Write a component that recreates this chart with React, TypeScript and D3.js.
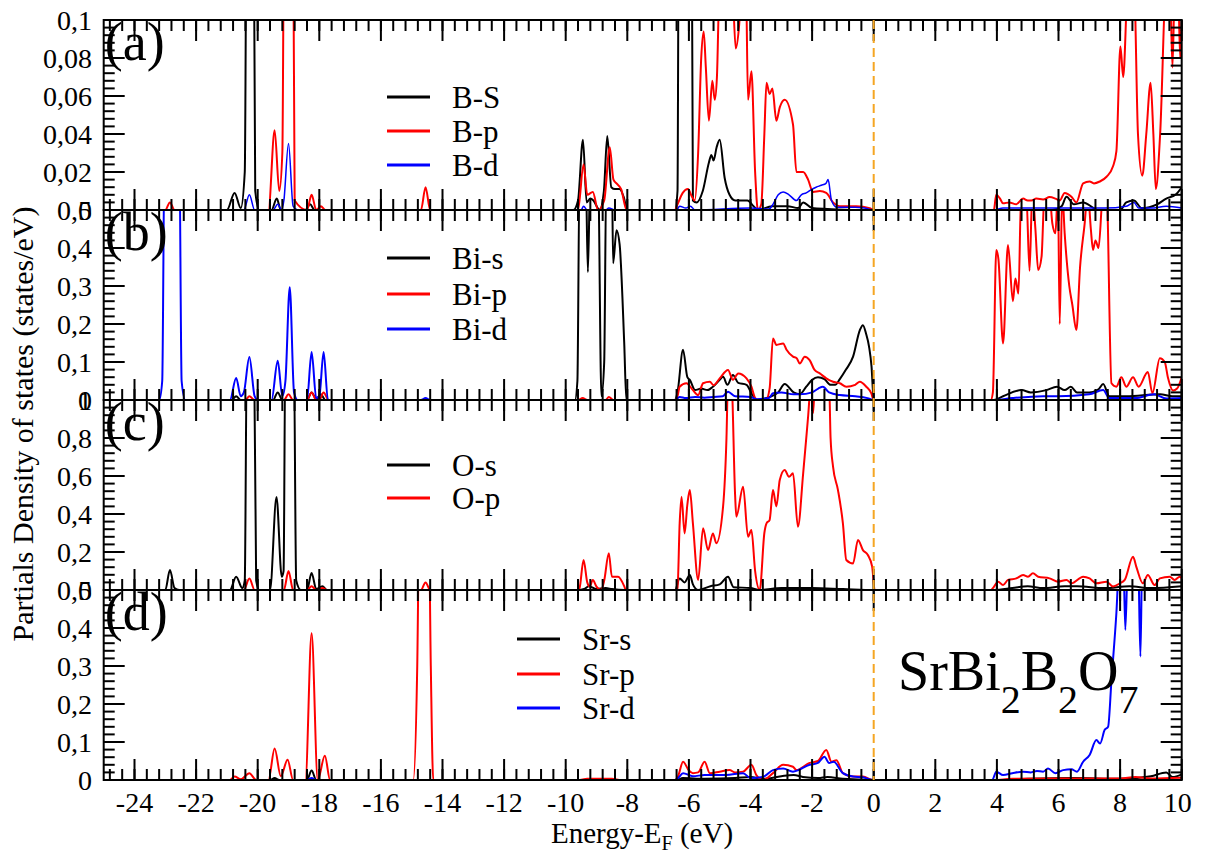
import React from 'react';
import * as d3 from 'd3';

type Pt = [number, number];

// ---- energy axis ----
const energyTicks: number[] = [-24, -22, -20, -18, -16, -14, -12, -10, -8, -6, -4, -2, 0, 2, 4, 6, 8, 10];

// ---- y ticks per panel ----
const ticksA: number[] = [0, 0.02, 0.04, 0.06, 0.08, 0.1];
const ticksB: number[] = [0, 0.1, 0.2, 0.3, 0.4, 0.5];
const ticksC: number[] = [0, 0.2, 0.4, 0.6, 0.8, 1];
const ticksD: number[] = [0, 0.1, 0.2, 0.3, 0.4, 0.5];

// ---- (a) boron ----
const bS: Pt[] = [
  [-25, 0], [-21.0, 0], [-20.75, 0.009], [-20.55, 0.001], [-20.42, 0.02], [-20.32, 0.3], [-20.18, 0.3], [-20.08, 0.01], [-19.95, 0],
  [-19.55, 0], [-19.38, 0.006], [-19.25, 0], [-18.45, 0], [-18.3, 0.003], [-18.15, 0],
  [-9.75, 0], [-9.6, 0.005], [-9.44, 0.037], [-9.32, 0.004], [-9.2, 0.006], [-9.1, 0.005], [-8.9, 0], [-8.76, 0.01], [-8.65, 0.039],
  [-8.52, 0.012], [-8.4, 0.011], [-8.25, 0.011], [-8.12, 0.007], [-8.0, 0],
  [-6.45, 0], [-6.37, 0.01], [-6.32, 0.2], [-5.92, 0.2], [-5.87, 0.005], [-5.75, 0.004], [-5.55, 0.01], [-5.35, 0.025], [-5.27, 0.029],
  [-5.2, 0.026], [-5.1, 0.033], [-5.0, 0.037], [-4.84, 0.017], [-4.68, 0.008], [-4.5, 0.005], [-4.3, 0.005], [-4.1, 0.005], [-3.9, 0.002],
  [-3.76, 0], [-3.3, 0.002], [-2.8, 0.002], [-2.45, 0.001], [-2.29, 0.004], [-2.0, 0.001], [-1.5, 0.0005], [-0.5, 0], [0, 0],
  [5.8, 0], [6.1, 0.002], [6.26, 0.007], [6.5, 0.003], [6.8, 0.004], [7.3, 0], [8.0, 0], [8.2, 0.004], [8.45, 0.005], [8.7, 0.001],
  [9.2, 0.003], [9.5, 0.006], [9.8, 0.008], [10, 0.012],
];
const bP: Pt[] = [
  [-25, 0], [-23.0, 0], [-22.85, 0.004], [-22.7, 0], [-19.65, 0], [-19.45, 0.042], [-19.3, 0.01], [-19.2, 0.03], [-19.1, 0.3], [-18.9, 0.3],
  [-18.8, 0.005], [-18.4, 0], [-18.25, 0.008], [-18.1, 0], [-17.95, 0.002], [-17.8, 0], [-14.7, 0], [-14.55, 0.012], [-14.4, 0],
  [-9.6, 0], [-9.42, 0.024], [-9.3, 0.008], [-9.12, 0.0095], [-8.95, 0], [-8.75, 0.005], [-8.57, 0.033], [-8.45, 0.016], [-8.35, 0.014],
  [-8.2, 0.011], [-8.02, 0],
  [-6.45, 0], [-6.37, 0.003], [-6.2, 0.009], [-6.03, 0.011], [-5.9, 0.007], [-5.81, 0.005], [-5.7, 0.03], [-5.6, 0.08], [-5.52, 0.094],
  [-5.45, 0.075], [-5.35, 0.047], [-5.24, 0.068], [-5.16, 0.058], [-5.09, 0.07], [-5.0, 0.12], [-4.6, 0.12], [-4.48, 0.085], [-4.37, 0.097],
  [-4.28, 0.12], [-4.15, 0.12], [-4.08, 0.058], [-3.97, 0.073], [-3.85, 0.02], [-3.76, 0], [-3.65, 0.003], [-3.55, 0.04], [-3.48, 0.067],
  [-3.38, 0.061], [-3.29, 0.064], [-3.16, 0.047], [-3.05, 0.054], [-2.89, 0.058], [-2.62, 0.045], [-2.51, 0.02], [-2.29, 0.02],
  [-2.13, 0.016], [-1.97, 0.0095], [-1.75, 0.01], [-1.54, 0.009], [-1.32, 0.004], [-1.1, 0.002], [-0.56, 0.002], [-0.13, 0.001], [0, 0],
  [3.9, 0], [3.98, 0.008], [4.1, 0.006], [4.2, 0.0035], [4.4, 0.004], [4.63, 0.003], [4.85, 0.006], [5.0, 0.005], [5.12, 0.005],
  [5.28, 0.006], [5.5, 0.0055], [5.71, 0.0068], [5.9, 0.006], [6.04, 0.005], [6.2, 0.009], [6.42, 0.007], [6.58, 0.004], [6.8, 0.014],
  [7.01, 0.015], [7.15, 0.014], [7.34, 0.015], [7.56, 0.0175], [7.77, 0.023], [7.88, 0.031], [8.01, 0.086], [8.1, 0.07], [8.26, 0.12],
  [8.45, 0.12], [8.58, 0.04], [8.72, 0.018], [8.85, 0.04], [8.99, 0.067], [9.08, 0.04], [9.16, 0.011], [9.3, 0.04], [9.5, 0.12],
  [9.62, 0.12], [9.7, 0.075], [9.78, 0.12], [9.88, 0.12], [9.95, 0.08], [10, 0.1],
];
const bD: Pt[] = [
  [-25, 0], [-20.45, 0], [-20.27, 0.008], [-20.1, 0], [-19.5, 0], [-19.35, 0.003], [-19.22, 0], [-19.15, 0.005], [-19.0, 0.035],
  [-18.85, 0.002], [-18.7, 0], [-9.5, 0], [-9.42, 0.002], [-9.3, 0], [-8.7, 0], [-8.6, 0.001], [-8.4, 0],
  [-6.4, 0], [-6.3, 0.002], [-6.1, 0.001], [-5.95, 0.002], [-5.8, 0], [-4.0, 0.001], [-3.4, 0.0005], [-3.27, 0.003], [-3.1, 0.008],
  [-2.94, 0.0095], [-2.75, 0.008], [-2.51, 0.005], [-2.35, 0.008], [-2.19, 0.009], [-2.0, 0.011], [-1.87, 0.012], [-1.7, 0.013],
  [-1.55, 0.014], [-1.48, 0.016], [-1.37, 0.005], [-1.2, 0.0015], [-0.6, 0.0015], [-0.3, 0.001], [0, 0],
  [3.9, 0], [4.2, 0.001], [6.0, 0.001], [7.5, 0.001], [8.2, 0.002], [8.45, 0.004], [8.6, 0.001], [9.0, 0.001], [9.5, 0.002], [10, 0.001],
];

// ---- (b) bismuth ----
const biS: Pt[] = [
  [-25, 0], [-20.85, 0], [-20.7, 0.01], [-20.55, 0], [-19.5, 0], [-19.35, 0.02], [-19.2, 0], [-18.4, 0], [-18.25, 0.02], [-18.1, 0.003],
  [-17.95, 0.015], [-17.8, 0],
  [-9.7, 0], [-9.62, 0.05], [-9.55, 0.6], [-9.35, 0.6], [-9.28, 0.337], [-9.2, 0.6], [-8.95, 0.6], [-8.84, 0.01], [-8.75, 0.1],
  [-8.68, 0.6], [-8.5, 0.6], [-8.46, 0.36], [-8.35, 0.447], [-8.25, 0.41], [-8.1, 0.15], [-8.03, 0],
  [-6.45, 0], [-6.37, 0.02], [-6.19, 0.132], [-6.05, 0.06], [-5.97, 0.053], [-5.8, 0.026], [-5.6, 0.03], [-5.4, 0.026], [-5.22, 0.035],
  [-5.0, 0.053], [-4.89, 0.061], [-4.75, 0.04], [-4.57, 0.066], [-4.4, 0.045], [-4.13, 0.04], [-3.95, 0.015], [-3.81, 0], [-3.38, 0.008],
  [-3.1, 0.02], [-2.89, 0.042], [-2.6, 0.02], [-2.4, 0.015], [-2.19, 0.035], [-2.0, 0.053], [-1.81, 0.06], [-1.6, 0.055], [-1.4, 0.04],
  [-1.25, 0.04], [-1.1, 0.055], [-0.9, 0.08], [-0.67, 0.114], [-0.45, 0.184], [-0.35, 0.197], [-0.25, 0.175], [-0.15, 0.14],
  [-0.07, 0.088], [0, 0],
  [3.9, 0], [4.2, 0.01], [4.8, 0.026], [5.1, 0.02], [5.6, 0.026], [5.95, 0.035], [6.2, 0.026], [6.4, 0.035], [6.6, 0.02], [7.0, 0.02],
  [7.3, 0.028], [7.45, 0.042], [7.65, 0.01], [8.2, 0.01], [9.3, 0.015], [9.7, 0.01], [10, 0.01],
];
const biP: Pt[] = [
  [-25, 0], [-20.4, 0], [-20.27, 0.01], [-20.1, 0], [-19.15, 0], [-19.0, 0.015], [-18.85, 0], [-18.4, 0], [-18.25, 0.02], [-18.1, 0],
  [-18.0, 0], [-17.86, 0.02], [-17.7, 0],
  [-9.6, 0], [-9.45, 0.005], [-9.3, 0], [-8.7, 0], [-8.6, 0.008], [-8.45, 0],
  [-6.45, 0], [-6.37, 0.01], [-6.3, 0.035], [-6.08, 0.044], [-5.87, 0.026], [-5.7, 0.013], [-5.54, 0.044], [-5.32, 0.048], [-5.2, 0.039],
  [-5.0, 0.057], [-4.73, 0.079], [-4.57, 0.053], [-4.4, 0.07], [-4.13, 0.057], [-3.97, 0.035], [-3.85, 0.005], [-3.76, 0], [-3.5, 0],
  [-3.38, 0.03], [-3.27, 0.162], [-3.16, 0.145], [-2.94, 0.149], [-2.83, 0.132], [-2.62, 0.114], [-2.5, 0.11], [-2.4, 0.096],
  [-2.24, 0.114], [-2.08, 0.105], [-1.92, 0.079], [-1.75, 0.07], [-1.54, 0.057], [-1.32, 0.048], [-1.1, 0.044], [-0.89, 0.035],
  [-0.6, 0.04], [-0.45, 0.048], [-0.24, 0.035], [-0.08, 0.018], [0, 0],
  [3.8, 0], [3.87, 0.02], [3.98, 0.395], [4.05, 0.37], [4.2, 0.149], [4.36, 0.408], [4.52, 0.26], [4.6, 0.32], [4.7, 0.28], [4.79, 0.55],
  [4.95, 0.55], [5.06, 0.34], [5.15, 0.55], [5.25, 0.45], [5.34, 0.342], [5.45, 0.377], [5.55, 0.55], [5.7, 0.55], [5.8, 0.465],
  [5.9, 0.439], [5.98, 0.55], [6.04, 0.2], [6.12, 0.55], [6.2, 0.439], [6.35, 0.3], [6.45, 0.25], [6.58, 0.184], [6.7, 0.35],
  [6.85, 0.465], [6.95, 0.55], [7.05, 0.45], [7.12, 0.395], [7.2, 0.42], [7.3, 0.4], [7.45, 0.55], [7.56, 0.55], [7.72, 0.044],
  [7.88, 0.035], [8.04, 0.06], [8.2, 0.035], [8.42, 0.06], [8.6, 0.035], [8.9, 0.074], [9.05, 0.018], [9.29, 0.11], [9.45, 0.1],
  [9.55, 0.06], [9.72, 0.025], [9.85, 0.03], [10, 0.06],
];
const biD: Pt[] = [
  [-25, 0], [-23.2, 0], [-23.1, 0.05], [-23.02, 0.7], [-22.55, 0.7], [-22.47, 0.05], [-22.35, 0], [-20.9, 0], [-20.7, 0.058],
  [-20.55, 0.01], [-20.45, 0.02], [-20.27, 0.113], [-20.1, 0.01], [-20.0, 0], [-19.55, 0], [-19.35, 0.103], [-19.2, 0.01], [-19.1, 0.05],
  [-18.96, 0.297], [-18.82, 0.02], [-18.7, 0], [-18.4, 0], [-18.25, 0.126], [-18.1, 0.005], [-18.0, 0.01], [-17.86, 0.126], [-17.72, 0],
  [-14.7, 0], [-14.55, 0.005], [-14.4, 0],
  [-6.45, 0], [-6.3, 0.008], [-6.1, 0.005], [-5.8, 0.008], [-5.5, 0.006], [-5.2, 0.008], [-4.9, 0.01], [-4.73, 0.022], [-4.5, 0.01],
  [-4.0, 0.008], [-3.8, 0.002], [-3.4, 0.005], [-3.27, 0.018], [-3.0, 0.02], [-2.6, 0.015], [-2.4, 0.015], [-2.0, 0.02], [-1.8, 0.03],
  [-1.65, 0.035], [-1.45, 0.02], [-1.1, 0.013], [-0.6, 0.01], [-0.2, 0.005], [0, 0],
  [3.9, 0], [4.5, 0.005], [5.5, 0.01], [6.0, 0.01], [7.0, 0.015], [7.45, 0.026], [7.65, 0.005], [8.5, 0.005], [9.1, 0.015], [9.5, 0.004],
  [10, 0.005],
];

// ---- (c) oxygen ----
const oS: Pt[] = [
  [-25, 0], [-23.0, 0], [-22.85, 0.105], [-22.7, 0.01], [-22.55, 0], [-20.9, 0], [-20.7, 0.07], [-20.5, 0.01], [-20.42, 0.05],
  [-20.35, 1.3], [-20.12, 1.3], [-20.05, 0.05], [-19.95, 0], [-19.6, 0], [-19.39, 0.49], [-19.22, 0.07], [-19.16, 0.1], [-19.1, 1.3],
  [-18.83, 1.3], [-18.75, 0.05], [-18.6, 0], [-18.4, 0], [-18.25, 0.09], [-18.1, 0.005], [-17.9, 0.02], [-17.75, 0],
  [-9.6, 0], [-9.4, 0.005], [-9.25, 0.02], [-9.0, 0.005], [-8.7, 0.01], [-8.5, 0.005], [-8.1, 0],
  [-6.45, 0], [-6.3, 0.061], [-6.14, 0.04], [-5.97, 0.079], [-5.87, 0.03], [-5.7, 0], [-5.3, 0.02], [-5.0, 0.03], [-4.73, 0.07],
  [-4.55, 0.015], [-4.0, 0.01], [-3.7, 0], [-3.0, 0.01], [-2.0, 0.01], [-1.0, 0.005], [0, 0],
  [3.9, 0], [4.5, 0.01], [5.0, 0.02], [5.5, 0.01], [6.2, 0.02], [6.6, 0.02], [7.5, 0.01], [8.3, 0.02], [9.0, 0.01], [10, 0.02],
];
const oP: Pt[] = [
  [-25, 0], [-20.45, 0], [-20.27, 0.06], [-20.1, 0], [-19.15, 0], [-19.0, 0.1], [-18.85, 0], [-18.4, 0], [-18.25, 0.02], [-18.1, 0],
  [-17.9, 0.01], [-17.75, 0], [-14.7, 0], [-14.55, 0.04], [-14.4, 0],
  [-9.6, 0], [-9.55, 0.01], [-9.42, 0.158], [-9.3, 0.04], [-9.22, 0.018], [-9.12, 0.053], [-9.0, 0.018], [-8.85, 0], [-8.75, 0.05],
  [-8.6, 0.193], [-8.5, 0.07], [-8.3, 0.07], [-8.1, 0.02], [-8.05, 0],
  [-6.45, 0], [-6.37, 0.01], [-6.3, 0.35], [-6.24, 0.491], [-6.14, 0.298], [-6.05, 0.45], [-5.97, 0.526], [-5.87, 0.351], [-5.7, 0.053],
  [-5.54, 0.325], [-5.38, 0.21], [-5.22, 0.298], [-5.11, 0.246], [-4.89, 0.44], [-4.78, 0.8], [-4.73, 1.1], [-4.62, 1.1], [-4.5, 0.5],
  [-4.46, 0.386], [-4.24, 0.544], [-4.08, 0.28], [-3.97, 0.316], [-3.85, 0.1], [-3.7, 0], [-3.55, 0.3], [-3.48, 0.351], [-3.38, 0.368],
  [-3.27, 0.526], [-3.16, 0.44], [-3.05, 0.579], [-2.89, 0.632], [-2.75, 0.596], [-2.62, 0.614], [-2.46, 0.333], [-2.29, 0.614],
  [-2.13, 0.912], [-2.03, 1.1], [-1.97, 0.93], [-1.9, 1.1], [-1.45, 1.1], [-1.4, 0.8], [-1.32, 0.649], [-1.16, 0.526],
  [-1.0, 0.351], [-0.89, 0.158], [-0.67, 0.14], [-0.51, 0.263], [-0.35, 0.21], [-0.19, 0.184], [-0.05, 0.123], [0.03, 0],
  [3.8, 0], [3.87, 0.01], [4.04, 0.044], [4.2, 0.026], [4.36, 0.053], [4.63, 0.061], [4.85, 0.079], [5.01, 0.07], [5.17, 0.088],
  [5.34, 0.07], [5.71, 0.061], [5.99, 0.044], [6.26, 0.053], [6.42, 0.035], [6.8, 0.07], [7.01, 0.061], [7.23, 0.035], [7.56, 0.044],
  [7.77, 0.018], [7.99, 0.035], [8.15, 0.053], [8.42, 0.175], [8.53, 0.12], [8.74, 0.035], [8.9, 0.079], [9.12, 0.026], [9.29, 0.061],
  [9.61, 0.07], [9.77, 0.053], [9.94, 0.07], [10, 0.06],
];

// ---- (d) strontium ----
const srS: Pt[] = [
  [-25, 0], [-19.6, 0], [-19.45, 0.005], [-19.3, 0], [-18.4, 0], [-18.25, 0.025], [-18.1, 0], [-6.4, 0], [-6.2, 0.005], [-5.5, 0.003],
  [-4.5, 0.005], [-4.0, 0.008], [-3.6, 0.003], [-3.0, 0.01], [-2.6, 0.013], [-2.3, 0.008], [-1.8, 0.005], [-1.5, 0.008], [-1.0, 0.003],
  [0, 0], [3.9, 0], [5.0, 0.003], [6.5, 0.005], [8.0, 0.003], [9.0, 0.01], [9.5, 0.02], [9.7, 0.008], [10, 0.015],
];
const srP: Pt[] = [
  [-25, 0], [-20.9, 0], [-20.75, 0.009], [-20.55, 0.002], [-20.27, 0.018], [-20.05, 0], [-19.65, 0], [-19.45, 0.083], [-19.25, 0.01],
  [-19.03, 0.053], [-18.85, 0], [-18.45, 0], [-18.25, 0.386], [-18.05, 0], [-17.82, 0.064], [-17.65, 0], [-14.95, 0], [-14.82, 0.3],
  [-14.75, 0.7], [-14.45, 0.7], [-14.38, 0.3], [-14.3, 0], [-9.6, 0], [-9.3, 0.003], [-8.5, 0.003], [-8.2, 0],
  [-6.45, 0], [-6.35, 0.01], [-6.19, 0.048], [-6.0, 0.025], [-5.87, 0.018], [-5.7, 0.02], [-5.49, 0.048], [-5.32, 0.018], [-5.0, 0.022],
  [-4.68, 0.026], [-4.5, 0.02], [-4.24, 0.022], [-3.97, 0.04], [-3.81, 0.013], [-3.59, 0], [-3.27, 0.018], [-2.94, 0.04], [-2.62, 0.035],
  [-2.51, 0.026], [-2.08, 0.045], [-1.81, 0.05], [-1.54, 0.079], [-1.37, 0.048], [-1.21, 0.052], [-1.0, 0.018], [-0.67, 0.009],
  [-0.35, 0.009], [-0.02, 0], [3.9, 0], [4.5, 0.003], [6.0, 0.004], [8.0, 0.004], [8.5, 0.008], [9.0, 0.004], [10, 0.006],
];
const srD: Pt[] = [
  [-25, 0], [-18.4, 0], [-18.25, 0.005], [-18.1, 0], [-6.45, 0], [-6.35, 0.005], [-6.19, 0.018], [-5.87, 0.01], [-5.49, 0.013],
  [-4.8, 0.013], [-4.24, 0.018], [-4.0, 0.005], [-3.6, 0.008], [-3.27, 0.026], [-2.94, 0.03], [-2.62, 0.022], [-2.08, 0.04],
  [-1.81, 0.045], [-1.6, 0.061], [-1.45, 0.045], [-1.3, 0.048], [-1.0, 0.018], [-0.67, 0.009], [-0.35, 0.007], [0, 0],
  [3.85, 0], [3.98, 0.022], [4.2, 0.013], [4.5, 0.018], [4.85, 0.022], [5.1, 0.02], [5.3, 0.024], [5.5, 0.022], [5.66, 0.03],
  [5.9, 0.018], [6.15, 0.026], [6.42, 0.028], [6.6, 0.022], [6.8, 0.048], [7.01, 0.066], [7.23, 0.105], [7.35, 0.096], [7.5, 0.132],
  [7.61, 0.14], [7.72, 0.263], [7.88, 0.44], [7.99, 0.6], [8.1, 0.6], [8.17, 0.395], [8.26, 0.6], [8.58, 0.6], [8.66, 0.325],
  [8.72, 0.6], [10, 0.7],
];

// ---- layout ----
const W = 1207;
const H = 854;
const plotLeft = 103.7;
const plotRight = 1181.7;
const panelH = 190;
const FONT = "'Liberation Serif', 'Times New Roman', Times, serif";

interface Series { name: string; color: string; data: Pt[]; width: number }
interface Panel {
  tag: string; top: number; yMax: number; ticks: number[]; minor: number;
  series: Series[]; legendX: number; legendY: number[];
}

const panels: Panel[] = [
  { tag: '(a)', top: 20, yMax: 0.1, ticks: ticksA, minor: 0.004, legendX: 387, legendY: [97, 131, 165],
    series: [
      { name: 'B-S', color: '#000000', data: bS, width: 2 },
      { name: 'B-p', color: '#ff0000', data: bP, width: 2 },
      { name: 'B-d', color: '#0000ff', data: bD, width: 1.5 },
    ] },
  { tag: '(b)', top: 210, yMax: 0.5, ticks: ticksB, minor: 0.02, legendX: 387, legendY: [258, 294, 329],
    series: [
      { name: 'Bi-s', color: '#000000', data: biS, width: 2 },
      { name: 'Bi-p', color: '#ff0000', data: biP, width: 2 },
      { name: 'Bi-d', color: '#0000ff', data: biD, width: 2 },
    ] },
  { tag: '(c)', top: 400, yMax: 1, ticks: ticksC, minor: 0.04, legendX: 387, legendY: [465, 498],
    series: [
      { name: 'O-s', color: '#000000', data: oS, width: 2 },
      { name: 'O-p', color: '#ff0000', data: oP, width: 2 },
    ] },
  { tag: '(d)', top: 590, yMax: 0.5, ticks: ticksD, minor: 0.02, legendX: 517, legendY: [639, 674, 708],
    series: [
      { name: 'Sr-s', color: '#000000', data: srS, width: 2 },
      { name: 'Sr-p', color: '#ff0000', data: srP, width: 2 },
      { name: 'Sr-d', color: '#0000ff', data: srD, width: 2 },
    ] },
];

const x = d3.scaleLinear().domain([-25, 10]).range([plotLeft, plotRight]);
const xMinor = d3.range(0, 88).map((i) => -24.8 + i * 0.4).filter((v) => v <= 10.001);

const fmt = (v: number) => String(+v.toFixed(3)).replace('.', ',');

function PanelView({ p, idx }: { p: Panel; idx: number }) {
  const bottom = p.top + panelH;
  const y = d3.scaleLinear().domain([0, p.yMax]).range([bottom, p.top]);
  const line = d3.line<Pt>().x((d) => x(d[0])).y((d) => y(d[1])).curve(d3.curveMonotoneX);
  const nMinor = Math.round(p.yMax / p.minor);
  const yMinor = d3.range(0, nMinor + 1).map((i) => i * p.minor);
  const clipId = `clip-${idx}`;
  const maj = 21;
  const mnr = 11;
  return (
    <g>
      <defs>
        <clipPath id={clipId}>
          <rect x={plotLeft} y={p.top} width={plotRight - plotLeft} height={panelH + 1} />
        </clipPath>
      </defs>
      <g clipPath={`url(#${clipId})`}>
        {p.series.map((s) => (
          <path key={s.name} d={line(s.data) || ''} fill="none" stroke={s.color} strokeWidth={s.width} strokeLinejoin="round" />
        ))}
      </g>
      {/* frame */}
      <rect x={plotLeft} y={p.top} width={plotRight - plotLeft} height={panelH} fill="none" stroke="#000" strokeWidth={2} />
      {/* x ticks, top and bottom, pointing inward */}
      {xMinor.map((v, i) => (
        <g key={`xm${i}`} stroke="#000" strokeWidth={2}>
          <line x1={x(v)} x2={x(v)} y1={p.top} y2={p.top + mnr} />
          <line x1={x(v)} x2={x(v)} y1={bottom} y2={bottom - mnr} />
        </g>
      ))}
      {energyTicks.map((v) => (
        <g key={`xM${v}`} stroke="#000" strokeWidth={2}>
          <line x1={x(v)} x2={x(v)} y1={p.top} y2={p.top + maj} />
          <line x1={x(v)} x2={x(v)} y1={bottom} y2={bottom - maj} />
        </g>
      ))}
      {/* y ticks, left and right */}
      {yMinor.map((v, i) => (
        <g key={`ym${i}`} stroke="#000" strokeWidth={2}>
          <line x1={plotLeft} x2={plotLeft + mnr} y1={y(v)} y2={y(v)} />
          <line x1={plotRight} x2={plotRight - mnr} y1={y(v)} y2={y(v)} />
        </g>
      ))}
      {p.ticks.map((v) => (
        <g key={`yM${v}`}>
          <line x1={plotLeft} x2={plotLeft + maj} y1={y(v)} y2={y(v)} stroke="#000" strokeWidth={2} />
          <line x1={plotRight} x2={plotRight - maj} y1={y(v)} y2={y(v)} stroke="#000" strokeWidth={2} />
          <text x={92} y={y(v) + 9.5} textAnchor="end" fontFamily={FONT} fontSize={28} fill="#000">{fmt(v)}</text>
        </g>
      ))}
      {/* panel tag */}
      <text x={plotLeft + 1} y={p.top + 40} fontFamily={FONT} fontSize={54} fill="#000">{p.tag}</text>
      {/* legend */}
      {p.series.map((s, i) => (
        <g key={`lg${s.name}`}>
          <line x1={p.legendX} x2={p.legendX + 43} y1={p.legendY[i]} y2={p.legendY[i]} stroke={s.color} strokeWidth={3} />
          <text x={p.legendX + 65} y={p.legendY[i] + 11} fontFamily={FONT} fontSize={31} fill="#000">{s.name}</text>
        </g>
      ))}
    </g>
  );
}

export default function App() {
  const top = panels[0].top;
  const bottom = panels[panels.length - 1].top + panelH;
  return (
    <svg width={W} height={H} viewBox={`0 0 ${W} ${H}`} style={{ position: 'absolute', left: 0, top: 0, background: '#fff' }}>
      <rect x={0} y={0} width={W} height={H} fill="#fff" />
      {panels.map((p, i) => (
        <PanelView key={p.tag} p={p} idx={i} />
      ))}
      {/* Fermi level */}
      <line x1={x(0)} x2={x(0)} y1={top} y2={bottom} stroke="#f5a623" strokeWidth={2} strokeDasharray="9,5" />
      {/* energy tick labels */}
      {energyTicks.map((v) => (
        <text key={`xl${v}`} x={x(v) - (v === 10 ? 4 : 0)} y={812} textAnchor="middle" fontFamily={FONT} fontSize={28} fill="#000">{String(v)}</text>
      ))}
      {/* axis titles */}
      <text x={642} y={843} textAnchor="middle" fontFamily={FONT} fontSize={29} fill="#000">
        Energy-E<tspan fontSize={20} dy={7}>F</tspan><tspan dy={-7}> (eV)</tspan>
      </text>
      <text transform="translate(33,424) rotate(-90)" textAnchor="middle" fontFamily={FONT} fontSize={30} fill="#000">
        Partials Density of states (states/eV)
      </text>
      {/* compound label */}
      <text x={898} y={690} fontFamily={FONT} fontSize={56} fill="#000">
        SrBi<tspan fontSize={40} dy={23}>2</tspan><tspan dy={-23}>B</tspan><tspan fontSize={40} dy={23}>2</tspan><tspan dy={-23}>O</tspan><tspan fontSize={40} dy={23}>7</tspan>
      </text>
    </svg>
  );
}
